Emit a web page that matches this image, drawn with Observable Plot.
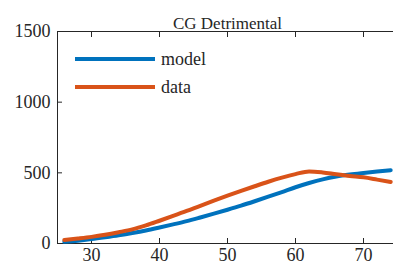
<!DOCTYPE html>
<html><head><meta charset="utf-8">
<script src="https://cdn.jsdelivr.net/npm/d3@7"></script>
<script src="https://cdn.jsdelivr.net/npm/@observablehq/plot@0.6"></script>
<style>
body{margin:0;background:#fff;}
#wrap{position:relative;width:393px;height:270px;overflow:hidden;font-family:'Liberation Serif', serif;color:#262626;}
#wrap svg, #wrap svg text{font-family:'Liberation Serif', serif !important;}
#legend{position:absolute;left:75px;top:45px;font-size:18px;}
#legend .row{display:flex;align-items:center;height:28px;}
#legend .sw{width:80px;height:4px;margin-right:6px;}
</style></head>
<body><div id="wrap"><div id="legend"></div></div>
<script>
const title = "CG Detrimental";
const seriesNames = ["model", "data"];
const seriesColors = ["#0072BD", "#D95319"];
const ages = [26,28,30,32,34,36,38,40,42,44,46,48,50,52,54,56,58,60,62,64,66,68,70,72,74];
const modelValues = [12,20,31,44,58,74,92,113,135,158,184,211,239,268,299,331,364,398,428,454,474,488,499,509,518];
const dataValues = [24,35,47,62,80,100,128,161,195,230,267,303,338,372,405,437,466,491,510,503,490,478,468,452,435];
const xTicks = [30,40,50,60,70];
const yTicks = [0,500,1000,1500];

const rows = [];
ages.forEach((a,i)=>{
  rows.push({age:a, value:modelValues[i], series:seriesNames[0]});
});
ages.forEach((a,i)=>{
  rows.push({age:a, value:dataValues[i], series:seriesNames[1]});
});

const ink = "#262626";
const fmt = d3.format("d");
const chart = Plot.plot({
  width: 393, height: 270,
  marginTop: 31, marginLeft: 57, marginRight: -4, marginBottom: 27,
  style: {fontFamily: "Liberation Serif, serif", fontSize: "18px", color: ink, background: "#fff", overflow: "hidden"},
  x: {domain: [25, 75]},
  y: {domain: [0, 1500]},
  color: {domain: seriesNames, range: seriesColors},
  marks: [
    Plot.frame({stroke: ink, strokeWidth: 1}),
    Plot.axisX({anchor: "bottom", ticks: xTicks, tickSize: -5, tickPadding: 10, tickFormat: fmt, label: null, stroke: ink, strokeOpacity: 1, fill: ink}),
    Plot.axisX({anchor: "top", ticks: xTicks, tickSize: -5, tickFormat: () => "", label: null, stroke: ink, strokeOpacity: 1}),
    Plot.axisY({anchor: "left", ticks: yTicks, tickSize: -5, tickPadding: 12, tickFormat: fmt, label: null, stroke: ink, strokeOpacity: 1, fill: ink}),
    Plot.line(rows, {x: "age", y: "value", stroke: "series", strokeWidth: 4, curve: "monotone-x"}),
    Plot.text([title], {text: d => d, frameAnchor: "top", dy: -15, fontSize: 17, fill: ink})
  ]
});
const wrap = document.getElementById("wrap");
wrap.insertBefore(chart, wrap.firstChild);
const leg = document.getElementById("legend");
seriesNames.forEach((n,i)=>{
  const r = document.createElement("div"); r.className="row";
  const s = document.createElement("div"); s.className="sw"; s.style.background = seriesColors[i];
  const t = document.createElement("span"); t.textContent = n;
  r.appendChild(s); r.appendChild(t); leg.appendChild(r);
});
</script></body></html>
